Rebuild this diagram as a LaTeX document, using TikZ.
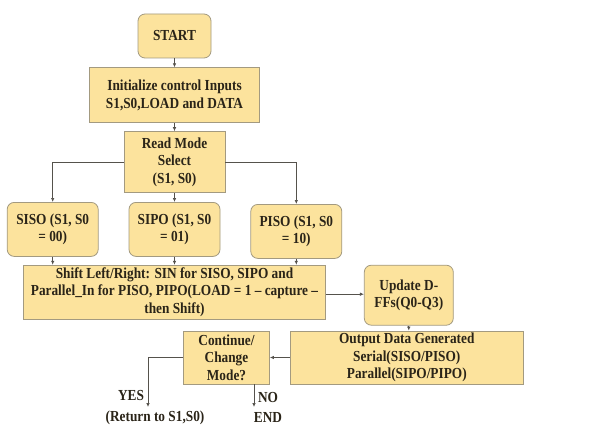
\documentclass[tikz,border=0pt]{standalone}
\usepackage{fontspec}
\setmainfont[FakeStretch=0.87]{Liberation Serif}
\usetikzlibrary{arrows.meta, positioning}
\definecolor{flwFill}{HTML}{FCE39D}
\definecolor{flwEdge}{HTML}{A39A80}
\definecolor{flwInk}{HTML}{2A2418}
\definecolor{flwLine}{HTML}{55524C}

\begin{document}
\begin{tikzpicture}[x=1pt, y=-1pt, font=\fontsize{15.3}{17.3}\selectfont\bfseries,
        box/.style={draw=flwEdge, line width=0.8pt, fill=flwFill, text=flwInk, align=center, inner sep=2pt},
        rbox/.style={box, rounded corners=7pt},
        lbl/.style={text=flwInk, inner sep=1pt},
        arr/.style={-{Latex[length=4pt, width=3.5pt]}, flwLine, line width=0.7pt}]
        \useasboundingbox[fill=white] (0,0) rectangle (590,428);
        \node[rbox, minimum width=73pt, minimum height=44pt] (start) at (174.5,36) {START};
        \node[box, below=9pt of start, minimum width=170pt, minimum height=55pt] (init) {Initialize control Inputs\\S1,S0,LOAD and DATA};
        \node[box, below=8pt of init, minimum width=101pt, minimum height=61pt] (mode) {Read Mode\\Select\\(S1, S0)};
        \node[rbox, below=9pt of mode, minimum width=91pt, minimum height=54pt] (sipo) {SIPO (S1, S0\\= 01)};
        \node[rbox, left=30pt of sipo, minimum width=91pt, minimum height=54pt] (siso) {SISO (S1, S0\\= 00)};
        \node[rbox, right=30pt of sipo, yshift=-2pt, minimum width=91pt, minimum height=54pt] (piso) {PISO (S1, S0\\= 10)};
        \node[box, below=8pt of sipo, minimum width=302pt, minimum height=54pt] (shift) {Shift Left/Right: SIN for SISO, SIPO and\\Parallel\_In for PISO, PIPO(LOAD = 1 – capture –\\then Shift)};
        \node[rbox, right=38pt of shift, yshift=-3pt, minimum width=89pt, minimum height=60pt] (upd) {Update D-\\FFs(Q0-Q3)};
        \node[box, below=5pt of upd, xshift=-2pt, minimum width=233pt, minimum height=53pt] (out) {Output Data Generated\\Serial(SISO/PISO)\\Parallel(SIPO/PIPO)};
        \node[box, left=20pt of out, minimum width=86pt, minimum height=53pt] (cont) {Continue/\\Change\\Mode?};
        \coordinate (yes) at (148,407);
        \coordinate (no) at (254,407);
        \node[lbl] (yeslbl) at (131,396) {YES};
        \node[lbl] (ret) at (155,418) {(Return to S1,S0)};
        \node[lbl] (nolbl) at (268,398) {NO};
        \node[lbl] (endlbl) at (268,418) {END};
        \draw[arr] (start) -- (init);
        \draw[arr] (init) -- (mode);
        \draw[arr] (mode.west) -| (siso.north);
        \draw[arr] (mode) -- (sipo);
        \draw[arr] (mode.east) -| (piso.north);
        \draw[arr] (siso) -- (siso |- shift.north);
        \draw[arr] (sipo) -- (sipo |- shift.north);
        \draw[arr] (piso) -- (piso |- shift.north);
        \draw[arr] ([yshift=-2pt]shift.east) -- ([yshift=-2pt]shift.east -| upd.west);
        \draw[arr] (upd) -- (upd |- out.north);
        \draw[arr] (out) -- (cont);
        \draw[arr] (cont.west) -| (yes);
        \draw[arr] (cont.south -| no) -- (no);
      \end{tikzpicture}
\end{document}
